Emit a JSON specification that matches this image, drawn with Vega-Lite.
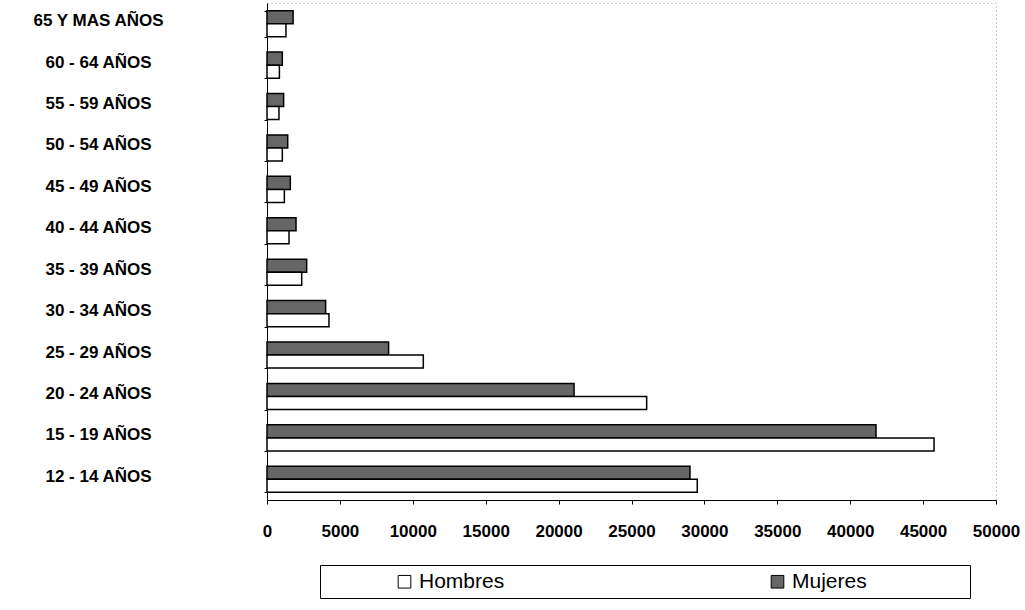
{
  "$schema": "https://vega.github.io/schema/vega-lite/v6.json",
  "autosize": "none",
  "width": 729,
  "height": 497,
  "padding": {"left": 267, "top": 3, "right": 29, "bottom": 110},
  "background": "white",
  "config": {
    "font": "Liberation Sans",
    "view": {"stroke": "#999999", "strokeDash": [1, 3], "strokeWidth": 1}
  },
  "data": {
    "values": [
      {"edad": "65 Y MAS AÑOS", "sexo": "Mujeres", "valor": 1790},
      {"edad": "65 Y MAS AÑOS", "sexo": "Hombres", "valor": 1300},
      {"edad": "60 - 64 AÑOS", "sexo": "Mujeres", "valor": 1050},
      {"edad": "60 - 64 AÑOS", "sexo": "Hombres", "valor": 850},
      {"edad": "55 - 59 AÑOS", "sexo": "Mujeres", "valor": 1140},
      {"edad": "55 - 59 AÑOS", "sexo": "Hombres", "valor": 820},
      {"edad": "50 - 54 AÑOS", "sexo": "Mujeres", "valor": 1420},
      {"edad": "50 - 54 AÑOS", "sexo": "Hombres", "valor": 1050},
      {"edad": "45 - 49 AÑOS", "sexo": "Mujeres", "valor": 1600},
      {"edad": "45 - 49 AÑOS", "sexo": "Hombres", "valor": 1190},
      {"edad": "40 - 44 AÑOS", "sexo": "Mujeres", "valor": 1990},
      {"edad": "40 - 44 AÑOS", "sexo": "Hombres", "valor": 1510},
      {"edad": "35 - 39 AÑOS", "sexo": "Mujeres", "valor": 2720},
      {"edad": "35 - 39 AÑOS", "sexo": "Hombres", "valor": 2380},
      {"edad": "30 - 34 AÑOS", "sexo": "Mujeres", "valor": 4020},
      {"edad": "30 - 34 AÑOS", "sexo": "Hombres", "valor": 4250},
      {"edad": "25 - 29 AÑOS", "sexo": "Mujeres", "valor": 8340},
      {"edad": "25 - 29 AÑOS", "sexo": "Hombres", "valor": 10720},
      {"edad": "20 - 24 AÑOS", "sexo": "Mujeres", "valor": 21060},
      {"edad": "20 - 24 AÑOS", "sexo": "Hombres", "valor": 26040},
      {"edad": "15 - 19 AÑOS", "sexo": "Mujeres", "valor": 41770},
      {"edad": "15 - 19 AÑOS", "sexo": "Hombres", "valor": 45750},
      {"edad": "12 - 14 AÑOS", "sexo": "Mujeres", "valor": 29010},
      {"edad": "12 - 14 AÑOS", "sexo": "Hombres", "valor": 29510}
    ]
  },
  "mark": {"type": "bar", "stroke": "black", "strokeWidth": 1.5},
  "encoding": {
    "y": {
      "field": "edad",
      "type": "nominal",
      "sort": null,
      "scale": {"paddingInner": 0.37, "paddingOuter": 0.185},
      "axis": {
        "title": null,
        "domainColor": "black",
        "tickColor": "black",
        "tickSize": 3,
        "tickBand": "extent",
        "labelAlign": "center",
        "labelPadding": 166,
        "labelOffset": -3,
        "labelFontSize": 17,
        "labelFontWeight": "bold",
        "labelColor": "black"
      }
    },
    "yOffset": {
      "field": "sexo",
      "type": "nominal",
      "sort": ["Mujeres", "Hombres"],
      "scale": {"paddingInner": 0}
    },
    "x": {
      "field": "valor",
      "type": "quantitative",
      "scale": {"domain": [0, 50000], "nice": false},
      "axis": {
        "title": null,
        "grid": false,
        "values": [0, 5000, 10000, 15000, 20000, 25000, 30000, 35000, 40000, 45000, 50000],
        "format": "d",
        "domainColor": "black",
        "tickColor": "black",
        "tickSize": 4,
        "labelPadding": 19,
        "labelFontSize": 17,
        "labelFontWeight": "bold",
        "labelColor": "black",
        "labelFlush": false
      }
    },
    "fill": {
      "field": "sexo",
      "type": "nominal",
      "scale": {"domain": ["Hombres", "Mujeres"], "range": ["#ffffff", "#666666"]},
      "legend": {
        "title": " ",
        "titleOrient": "right",
        "titlePadding": 97,
        "orient": "none",
        "legendX": 53,
        "legendY": 562,
        "direction": "horizontal",
        "columns": 2,
        "columnPadding": 194,
        "padding": 6,
        "strokeColor": "black",
        "fillColor": "white",
        "symbolType": "square",
        "symbolSize": 160,
        "symbolStrokeColor": "black",
        "symbolStrokeWidth": 1,
        "symbolOffset": 68,
        "labelOffset": 4,
        "labelFontSize": 21,
        "labelColor": "black",
        "labelFont": "Liberation Sans"
      }
    }
  }
}
